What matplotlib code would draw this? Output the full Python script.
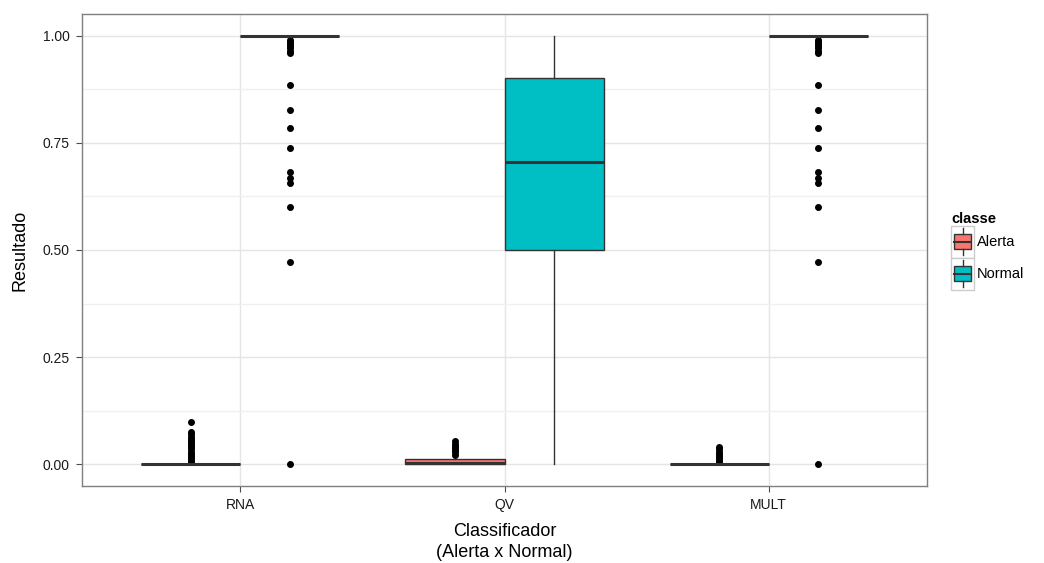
import numpy as np
import matplotlib
matplotlib.use("Agg")
import matplotlib.pyplot as plt
from matplotlib.legend_handler import HandlerBase
from matplotlib.patches import Rectangle, Patch
from matplotlib.lines import Line2D

plt.rcParams['font.family'] = ['Liberation Sans', 'DejaVu Sans']

# categories and groups
classificadores = ['RNA', 'QV', 'MULT']
classes = ['Alerta', 'Normal']
cores = {'Alerta': '#F8766D', 'Normal': '#00BFC4'}

# box stats per (classificador, classe): whislo, q1, med, q3, whishi
stats_alerta = [(0.0, 0.0, 0.0, 0.002, 0.002),
                (0.0, 0.0, 0.003, 0.012, 0.018),
                (0.0, 0.0, 0.0, 0.002, 0.002)]
stats_normal = [(0.999, 1.0, 1.0, 1.0, 1.0),
                (0.0, 0.50, 0.705, 0.90, 1.0),
                (0.999, 1.0, 1.0, 1.0, 1.0)]

# outliers
out_rna_alerta = [0.005, 0.01, 0.015, 0.02, 0.025, 0.03, 0.035, 0.04, 0.045,
                  0.05, 0.055, 0.06, 0.065, 0.07, 0.076, 0.0995]
out_qv_alerta = [0.023, 0.028, 0.033, 0.038, 0.043, 0.048, 0.054]
out_mult_alerta = [0.005, 0.01, 0.015, 0.02, 0.025, 0.03, 0.035, 0.04]
out_normal = [0.0, 0.4725, 0.600, 0.655, 0.668, 0.681, 0.737, 0.785, 0.827,
              0.884, 0.96, 0.965, 0.97, 0.975, 0.98, 0.985, 0.99]
outliers_alerta = [out_rna_alerta, out_qv_alerta, out_mult_alerta]
outliers_normal = [out_normal, [], out_normal]

fig = plt.figure(figsize=(10.44, 5.63), dpi=100)
ax = fig.add_axes([0.0785, 0.137, 0.8095, 0.838])

edge = '#333333'
dodge = 0.1875
width = 0.375

def make_bxp(stats, outs, offset, cor):
    bx = []
    for s, o in zip(stats, outs):
        bx.append(dict(whislo=s[0], q1=s[1], med=s[2], q3=s[3], whishi=s[4], fliers=o))
    pos = np.arange(len(stats)) + 1 + offset
    ax.bxp(bx, positions=pos, widths=width, patch_artist=True, showcaps=False,
           boxprops=dict(facecolor=cor, edgecolor=edge, linewidth=1.0),
           medianprops=dict(color=edge, linewidth=2.2, solid_capstyle='butt'),
           whiskerprops=dict(color=edge, linewidth=1.0),
           flierprops=dict(marker='o', markerfacecolor='black', markeredgecolor='black',
                           markersize=4, linestyle='none'),
           manage_ticks=False, zorder=3)

make_bxp(stats_alerta, outliers_alerta, -dodge, cores['Alerta'])
make_bxp(stats_normal, outliers_normal, dodge, cores['Normal'])

ax.set_xlim(0.4, 3.6)
ax.set_ylim(-0.05, 1.05)
ax.set_xticks([1, 2, 3])
ax.set_xticklabels(classificadores)
ax.set_yticks([0, 0.25, 0.5, 0.75, 1.0])
ax.set_yticklabels(['0.00', '0.25', '0.50', '0.75', '1.00'])
ax.set_yticks([0.125, 0.375, 0.625, 0.875], minor=True)
ax.grid(True, which='major', color='#e5e5e5', linewidth=1.0, zorder=0)
ax.grid(True, which='minor', axis='y', color='#f0f0f0', linewidth=1.0, zorder=0)
ax.set_axisbelow(True)
for sp in ax.spines.values():
    sp.set_color('#7f7f7f')
    sp.set_linewidth(1.0)
ax.tick_params(axis='both', which='major', colors='#4d4d4d', labelsize=10, length=4, pad=5)
ax.tick_params(axis='both', which='minor', length=0)
for lab in ax.get_xticklabels() + ax.get_yticklabels():
    lab.set_color('#1a1a1a')

ax.set_ylabel('Resultado', fontsize=13, labelpad=10)
ax.set_xlabel('Classificador\n(Alerta x Normal)', fontsize=13, labelpad=8, linespacing=1.25)


class BoxHandler(HandlerBase):
    def create_artists(self, legend, orig, xd, yd, w, h, fontsize, trans):
        fc = orig.get_facecolor()
        x0, y0 = -xd, -yd
        bg = Rectangle((x0, y0), w, h, facecolor='white',
                       edgecolor='#cccccc', linewidth=1.0, transform=trans)
        rect = Rectangle((x0 + w * 0.12, y0 + h * 0.26), w * 0.76, h * 0.48,
                         facecolor=fc, edgecolor=edge, linewidth=1.0, transform=trans)
        med = Line2D([x0 + w * 0.12, x0 + w * 0.88], [y0 + h / 2, y0 + h / 2],
                     color=edge, linewidth=1.5, transform=trans)
        wt = Line2D([x0 + w / 2, x0 + w / 2], [y0 + h * 0.74, y0 + h * 0.92],
                    color=edge, linewidth=1.0, transform=trans)
        wb = Line2D([x0 + w / 2, x0 + w / 2], [y0 + h * 0.08, y0 + h * 0.26],
                    color=edge, linewidth=1.0, transform=trans)
        return [bg, rect, med, wt, wb]


handles = [Patch(facecolor=cores[c]) for c in classes]
leg = fig.legend(handles, classes, title='classe', loc='upper left',
                 bbox_to_anchor=(0.9, 0.645), frameon=False, fontsize=10.5,
                 handler_map={Patch: BoxHandler()}, handlelength=1.55,
                 handleheight=3.0, handletextpad=0.2, labelspacing=0.0,
                 alignment='left', borderpad=0.3)
leg.get_title().set_fontweight('bold')
leg.get_title().set_fontsize(10.5)

fig.savefig('out.png', dpi=100)
